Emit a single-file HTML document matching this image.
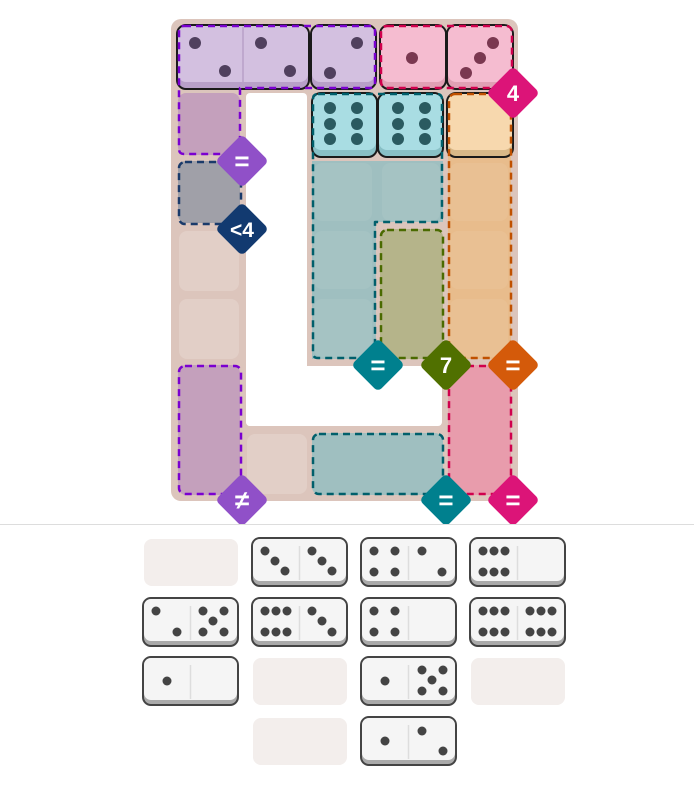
<!DOCTYPE html>
<html><head><meta charset="utf-8"><style>
html,body{margin:0;padding:0;background:#fff;}
svg{display:block;}
text{font-family:"Liberation Sans","DejaVu Sans",sans-serif;font-weight:bold;fill:#fff;text-anchor:middle;}
</style></head><body>
<svg width="694" height="797" viewBox="0 0 694 797" xmlns="http://www.w3.org/2000/svg">
<rect x="171" y="19" width="347" height="482" rx="10" fill="#dcc5bc"/>
<rect x="246" y="93" width="61" height="333" rx="4" fill="#fff"/>
<rect x="246" y="366" width="196" height="60" rx="4" fill="#fff"/>
<g fill="#e2cfc7">
<rect x="179" y="231" width="60" height="60" rx="8"/>
<rect x="179" y="299" width="60" height="60" rx="8"/>
<rect x="247" y="434" width="60" height="60" rx="8"/>
</g>
<g>
<rect x="178" y="93" width="62" height="62" rx="8" fill="#c4a0bc"/>
<rect x="178" y="161" width="62" height="62" rx="8" fill="#a0a0a8"/>
<rect x="178" y="365" width="62" height="130" rx="8" fill="#c4a0bc"/>
<path d="M312 161 H443 V222 H376 V359 H312 Z" fill="#9fbfc0"/>
<rect x="380" y="229" width="63" height="130" rx="8" fill="#b5b48a"/>
<rect x="448" y="150" width="63" height="209" rx="8" fill="#e8bc8c"/>
<rect x="312" y="433" width="131" height="62" rx="8" fill="#9fbfc0"/>
<rect x="448" y="365" width="63" height="130" rx="8" fill="#e89cac"/>
</g>
<g fill="#ffffff" opacity="0.06">
<rect x="314" y="163" width="58" height="58" rx="8"/><rect x="382" y="163" width="58" height="58" rx="8"/>
<rect x="314" y="231" width="58" height="58" rx="8"/><rect x="314" y="299" width="58" height="58" rx="8"/>
<rect x="450" y="163" width="58" height="58" rx="8"/><rect x="450" y="231" width="58" height="58" rx="8"/><rect x="450" y="299" width="58" height="58" rx="8"/>
</g>
<g stroke="#1a1a1a" stroke-width="2">
<rect x="177" y="25" width="132" height="64" rx="9" fill="#b8a0c8"/>
<rect x="311" y="25" width="65" height="64" rx="9" fill="#b8a0c8"/>
<rect x="380" y="25" width="66" height="64" rx="9" fill="#e0a0b4"/>
<rect x="447" y="25" width="66" height="64" rx="9" fill="#e0a0b4"/>
<rect x="312" y="93" width="65" height="64" rx="9" fill="#88c0c6"/>
<rect x="378" y="93" width="65" height="64" rx="9" fill="#88c0c6"/>
<rect x="447" y="93" width="66" height="64" rx="9" fill="#d8b888"/>
</g>
<g>
<rect x="178" y="26" width="130" height="56" rx="8" fill="#d3c0e0"/>
<line x1="243" y1="27" x2="243" y2="86" stroke="#b8a0c8" stroke-width="1.5"/>
<rect x="312" y="26" width="63" height="56" rx="8" fill="#d3c0e0"/>
<rect x="381" y="26" width="64" height="56" rx="8" fill="#f5bcd0"/>
<rect x="448" y="26" width="64" height="56" rx="8" fill="#f5bcd0"/>
<rect x="313" y="94" width="63" height="56" rx="8" fill="#a9dde3"/>
<rect x="379" y="94" width="63" height="56" rx="8" fill="#a9dde3"/>
<rect x="448" y="94" width="64" height="56" rx="8" fill="#f7d8ae"/>
</g>
<g fill="#50405e">
<circle cx="195" cy="43" r="6"/><circle cx="225" cy="71" r="6"/>
<circle cx="261" cy="43" r="6"/><circle cx="290" cy="71" r="6"/>
<circle cx="357" cy="43" r="6"/><circle cx="330" cy="73" r="6"/>
</g>
<g fill="#7a3850">
<circle cx="412" cy="58" r="6"/>
<circle cx="493" cy="43" r="6"/><circle cx="480" cy="58" r="6"/><circle cx="466" cy="73" r="6"/>
</g>
<g fill="#2a5a60">
<circle cx="330" cy="108" r="6"/><circle cx="357" cy="108" r="6"/>
<circle cx="330" cy="124" r="6"/><circle cx="357" cy="124" r="6"/>
<circle cx="330" cy="139" r="6"/><circle cx="357" cy="139" r="6"/>
<circle cx="398" cy="108" r="6"/><circle cx="425" cy="108" r="6"/>
<circle cx="398" cy="124" r="6"/><circle cx="425" cy="124" r="6"/>
<circle cx="398" cy="139" r="6"/><circle cx="425" cy="139" r="6"/>
</g>
<g fill="none" stroke-width="2.5" stroke-dasharray="7 5" stroke-linejoin="round">
<path d="M184 26 H370 Q375 26 375 31 V83 Q375 88 370 88 H240 V149 Q240 154 235 154 H184 Q179 154 179 149 V31 Q179 26 184 26 Z" stroke="#7a00d0"/>
<rect x="381" y="26" width="131" height="62" rx="6" stroke="#d0004c"/>
<path d="M318 94 H437 Q442 94 442 99 V217 Q442 222 437 222 H375 V353 Q375 358 370 358 H318 Q313 358 313 353 V99 Q313 94 318 94 Z" stroke="#005f6b"/>
<rect x="449" y="94" width="62" height="264" rx="6" stroke="#c05000"/>
<rect x="381" y="230" width="62" height="128" rx="6" stroke="#4a6a00"/>
<rect x="179" y="162" width="62" height="62" rx="6" stroke="#1a3a6a"/>
<rect x="179" y="366" width="62" height="128" rx="6" stroke="#7a00d0"/>
<rect x="313" y="434" width="130" height="60" rx="6" stroke="#005f6b"/>
<rect x="449" y="366" width="62" height="128" rx="6" stroke="#d0004c"/>
</g>
<g>
<g transform="translate(513,93) rotate(45)"><rect x="-19" y="-19" width="38" height="38" rx="5" fill="#dc1478"/></g>
<text x="513" y="101" font-size="22">4</text>
<g transform="translate(242,161) rotate(45)"><rect x="-19" y="-19" width="38" height="38" rx="5" fill="#9050c8"/></g>
<text x="242" y="170" font-size="26">=</text>
<g transform="translate(242,229) rotate(45)"><rect x="-19" y="-19" width="38" height="38" rx="5" fill="#123a70"/></g>
<text x="242" y="237" font-size="21">&lt;4</text>
<g transform="translate(378,365) rotate(45)"><rect x="-19" y="-19" width="38" height="38" rx="5" fill="#00808e"/></g>
<text x="378" y="374" font-size="26">=</text>
<g transform="translate(446,365) rotate(45)"><rect x="-19" y="-19" width="38" height="38" rx="5" fill="#507000"/></g>
<text x="446" y="373" font-size="22">7</text>
<g transform="translate(513,365) rotate(45)"><rect x="-19" y="-19" width="38" height="38" rx="5" fill="#d45a0a"/></g>
<text x="513" y="374" font-size="26">=</text>
<g transform="translate(242,500) rotate(45)"><rect x="-19" y="-19" width="38" height="38" rx="5" fill="#9050c8"/></g>
<text x="242" y="509" font-size="26">≠</text>
<g transform="translate(446,500) rotate(45)"><rect x="-19" y="-19" width="38" height="38" rx="5" fill="#00808e"/></g>
<text x="446" y="509" font-size="26">=</text>
<g transform="translate(513,500) rotate(45)"><rect x="-19" y="-19" width="38" height="38" rx="5" fill="#dc1478"/></g>
<text x="513" y="509" font-size="26">=</text>
</g>
<line x1="0" y1="524.5" x2="694" y2="524.5" stroke="#dddddd" stroke-width="1"/>
<g fill="#f3eeec">
<rect x="144" y="539" width="94" height="47" rx="8"/>
<rect x="253" y="658" width="94" height="47" rx="8"/>
<rect x="471" y="658" width="94" height="47" rx="8"/>
<rect x="253" y="718" width="94" height="47" rx="8"/>
</g>
<defs>
<g id="dom">
<rect x="1" y="1" width="95" height="48" rx="8" fill="#aaaaaa" stroke="#444" stroke-width="2"/>
<rect x="2" y="2" width="93" height="42" rx="7" fill="#f5f5f5"/>
<line x1="48.5" y1="9" x2="48.5" y2="43" stroke="#dddddd" stroke-width="1.5"/>
</g>
</defs>
<g fill="#444">
<g transform="translate(251,537)"><use href="#dom"/>
<circle cx="14" cy="14" r="4.5"/><circle cx="24" cy="24" r="4.5"/><circle cx="34" cy="34" r="4.5"/>
<circle cx="61" cy="14" r="4.5"/><circle cx="71" cy="24" r="4.5"/><circle cx="81" cy="34" r="4.5"/></g>
<g transform="translate(360,537)"><use href="#dom"/>
<circle cx="14" cy="14" r="4.5"/><circle cx="35" cy="14" r="4.5"/><circle cx="14" cy="35" r="4.5"/><circle cx="35" cy="35" r="4.5"/>
<circle cx="62" cy="14" r="4.5"/><circle cx="82" cy="35" r="4.5"/></g>
<g transform="translate(469,537)"><use href="#dom"/>
<circle cx="14" cy="14" r="4.5"/><circle cx="25" cy="14" r="4.5"/><circle cx="36" cy="14" r="4.5"/>
<circle cx="14" cy="35" r="4.5"/><circle cx="25" cy="35" r="4.5"/><circle cx="36" cy="35" r="4.5"/></g>
<g transform="translate(142,597)"><use href="#dom"/>
<circle cx="14" cy="14" r="4.5"/><circle cx="35" cy="35" r="4.5"/>
<circle cx="61" cy="14" r="4.5"/><circle cx="82" cy="14" r="4.5"/><circle cx="71" cy="24" r="4.5"/><circle cx="61" cy="35" r="4.5"/><circle cx="82" cy="35" r="4.5"/></g>
<g transform="translate(251,597)"><use href="#dom"/>
<circle cx="14" cy="14" r="4.5"/><circle cx="25" cy="14" r="4.5"/><circle cx="36" cy="14" r="4.5"/>
<circle cx="14" cy="35" r="4.5"/><circle cx="25" cy="35" r="4.5"/><circle cx="36" cy="35" r="4.5"/>
<circle cx="61" cy="14" r="4.5"/><circle cx="71" cy="24" r="4.5"/><circle cx="81" cy="35" r="4.5"/></g>
<g transform="translate(360,597)"><use href="#dom"/>
<circle cx="14" cy="14" r="4.5"/><circle cx="35" cy="14" r="4.5"/><circle cx="14" cy="35" r="4.5"/><circle cx="35" cy="35" r="4.5"/></g>
<g transform="translate(469,597)"><use href="#dom"/>
<circle cx="14" cy="14" r="4.5"/><circle cx="25" cy="14" r="4.5"/><circle cx="36" cy="14" r="4.5"/>
<circle cx="14" cy="35" r="4.5"/><circle cx="25" cy="35" r="4.5"/><circle cx="36" cy="35" r="4.5"/>
<circle cx="61" cy="14" r="4.5"/><circle cx="72" cy="14" r="4.5"/><circle cx="83" cy="14" r="4.5"/>
<circle cx="61" cy="35" r="4.5"/><circle cx="72" cy="35" r="4.5"/><circle cx="83" cy="35" r="4.5"/></g>
<g transform="translate(142,656)"><use href="#dom"/>
<circle cx="25" cy="25" r="4.5"/></g>
<g transform="translate(360,656)"><use href="#dom"/>
<circle cx="25" cy="25" r="4.5"/>
<circle cx="62" cy="14" r="4.5"/><circle cx="83" cy="14" r="4.5"/><circle cx="72" cy="24" r="4.5"/><circle cx="62" cy="35" r="4.5"/><circle cx="83" cy="35" r="4.5"/></g>
<g transform="translate(360,716)"><use href="#dom"/>
<circle cx="25" cy="25" r="4.5"/>
<circle cx="62" cy="15" r="4.5"/><circle cx="83" cy="35" r="4.5"/></g>
</g>
</svg>
</body></html>
